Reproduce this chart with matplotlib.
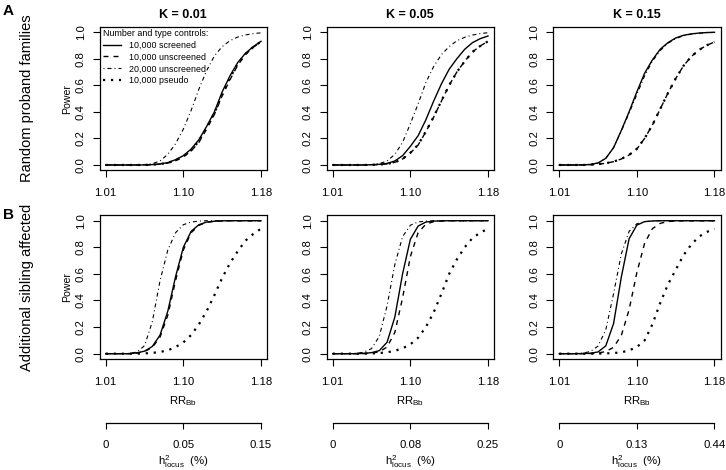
import matplotlib
matplotlib.use("Agg")
import matplotlib.pyplot as plt
from matplotlib.lines import Line2D

plt.rcParams['font.family'] = ['Liberation Sans', 'DejaVu Sans']
plt.rcParams['mathtext.fontset'] = 'custom'
plt.rcParams['mathtext.rm'] = 'Liberation Sans'

# grid position of each RR value (index along the x axis)
grid_pos = list(range(21))
rr_tick_pos = [0, 10, 20]
rr_tick_labels = ['1.01', '1.10', '1.18']
k_values = ['0.01', '0.05', '0.15']
h2_tick_labels = [['0', '0.05', '0.15'], ['0', '0.08', '0.25'], ['0', '0.13', '0.44']]
row_names = ['Random proband families', 'Additional sibling affected']
row_letters = ['A', 'B']
series_names = ['10,000 screened', '10,000 unscreened', '20,000 unscreened', '10,000 pseudo']

# --- row A: random proband families, one list per K ---
rand_screened = [
    [0, 0, 0, 0, 0, 0, 0.003, 0.008, 0.018, 0.04, 0.07, 0.12, 0.19, 0.29, 0.40, 0.55, 0.67, 0.77, 0.84, 0.89, 0.93],
    [0, 0, 0, 0, 0, 0.002, 0.005, 0.012, 0.03, 0.07, 0.14, 0.22, 0.34, 0.48, 0.61, 0.72, 0.80, 0.87, 0.92, 0.95, 0.97],
    [0, 0, 0, 0.001, 0.004, 0.015, 0.05, 0.13, 0.26, 0.40, 0.55, 0.69, 0.79, 0.87, 0.92, 0.955, 0.975, 0.986, 0.992, 0.996, 0.998],
]
rand_unscreened = [
    [0, 0, 0, 0, 0, 0, 0.002, 0.006, 0.014, 0.032, 0.06, 0.105, 0.17, 0.27, 0.38, 0.52, 0.64, 0.75, 0.83, 0.885, 0.925],
    [0, 0, 0, 0, 0, 0.001, 0.003, 0.008, 0.02, 0.045, 0.09, 0.15, 0.25, 0.36, 0.48, 0.60, 0.70, 0.78, 0.85, 0.895, 0.93],
    [0, 0, 0, 0, 0.002, 0.006, 0.013, 0.025, 0.045, 0.075, 0.12, 0.20, 0.30, 0.42, 0.54, 0.65, 0.745, 0.815, 0.865, 0.90, 0.925],
]
rand_unscreened_20k = [
    [0, 0, 0, 0, 0, 0.003, 0.01, 0.03, 0.08, 0.16, 0.27, 0.41, 0.57, 0.71, 0.82, 0.89, 0.935, 0.962, 0.978, 0.988, 0.994],
    [0, 0, 0, 0, 0, 0.003, 0.01, 0.03, 0.08, 0.17, 0.31, 0.46, 0.62, 0.74, 0.83, 0.89, 0.935, 0.96, 0.977, 0.988, 0.995],
    [0, 0, 0, 0.001, 0.004, 0.015, 0.05, 0.13, 0.255, 0.39, 0.53, 0.67, 0.78, 0.86, 0.915, 0.95, 0.972, 0.984, 0.991, 0.995, 0.997],
]
rand_pseudo = [
    [0, 0, 0, 0, 0, 0, 0.002, 0.007, 0.016, 0.035, 0.065, 0.11, 0.18, 0.28, 0.39, 0.53, 0.655, 0.76, 0.835, 0.887, 0.928],
    [0, 0, 0, 0, 0, 0.001, 0.003, 0.008, 0.02, 0.046, 0.092, 0.152, 0.252, 0.362, 0.482, 0.60, 0.70, 0.78, 0.85, 0.895, 0.93],
    [0, 0, 0, 0, 0.002, 0.006, 0.013, 0.025, 0.046, 0.076, 0.122, 0.20, 0.30, 0.42, 0.54, 0.65, 0.745, 0.815, 0.865, 0.90, 0.925],
]

# --- row B: additional sibling affected, one list per K ---
sib_screened = [
    [0, 0, 0, 0, 0.006, 0.019, 0.054, 0.14, 0.32, 0.58, 0.80, 0.92, 0.97, 0.99, 0.996, 0.999, 1, 1, 1, 1, 1],
    [0, 0, 0, 0, 0.002, 0.008, 0.023, 0.086, 0.275, 0.60, 0.86, 0.96, 0.99, 0.997, 0.999, 1, 1, 1, 1, 1, 1],
    [0, 0, 0, 0.001, 0.003, 0.013, 0.059, 0.226, 0.576, 0.864, 0.967, 0.993, 0.998, 1, 1, 1, 1, 1, 1, 1, 1],
]
sib_unscreened = [
    [0, 0, 0, 0, 0.005, 0.016, 0.047, 0.125, 0.29, 0.55, 0.78, 0.91, 0.965, 0.988, 0.995, 0.999, 1, 1, 1, 1, 1],
    [0, 0, 0, 0, 0.001, 0.004, 0.014, 0.05, 0.16, 0.42, 0.73, 0.91, 0.974, 0.993, 0.998, 1, 1, 1, 1, 1, 1],
    [0, 0, 0, 0, 0.001, 0.005, 0.016, 0.048, 0.137, 0.33, 0.61, 0.83, 0.94, 0.98, 0.994, 0.998, 1, 1, 1, 1, 1],
]
sib_unscreened_20k = [
    [0, 0, 0, 0.002, 0.012, 0.06, 0.24, 0.55, 0.78, 0.91, 0.97, 0.99, 0.997, 1, 1, 1, 1, 1, 1, 1, 1],
    [0, 0, 0, 0.003, 0.011, 0.038, 0.13, 0.36, 0.67, 0.88, 0.966, 0.991, 0.997, 1, 1, 1, 1, 1, 1, 1, 1],
    [0, 0, 0, 0.004, 0.016, 0.057, 0.18, 0.45, 0.75, 0.92, 0.977, 0.993, 0.998, 1, 1, 1, 1, 1, 1, 1, 1],
]
sib_pseudo = [
    [0, 0, 0, 0, 0, 0.002, 0.006, 0.013, 0.025, 0.05, 0.085, 0.14, 0.22, 0.32, 0.44, 0.57, 0.68, 0.77, 0.85, 0.90, 0.94],
    [0, 0, 0, 0, 0, 0.002, 0.005, 0.01, 0.022, 0.04, 0.07, 0.12, 0.20, 0.31, 0.45, 0.60, 0.71, 0.80, 0.87, 0.91, 0.94],
    [0, 0, 0, 0, 0, 0, 0.002, 0.005, 0.01, 0.025, 0.05, 0.10, 0.22, 0.38, 0.52, 0.63, 0.74, 0.82, 0.88, 0.915, 0.94],
]

rows = [
    [rand_screened, rand_unscreened, rand_unscreened_20k, rand_pseudo],
    [sib_screened, sib_unscreened, sib_unscreened_20k, sib_pseudo],
]

# line styles mimicking R lty 1, 2, 4, 3
styles = [
    dict(color='black', lw=1.0, linestyle='-'),
    dict(color='black', lw=1.0, linestyle=(0, (3.6, 3.6))),
    dict(color='black', lw=0.8, linestyle=(0, (0.9, 2.7, 3.6, 2.7))),
    dict(color='black', lw=1.6, linestyle=(0, (1.0, 2.6))),
]

W, H = 726, 470
col_left = [99.5, 326.5, 553]
row_top = [26.7, 215.4]
pw, ph = 167.7, 143.6

fig = plt.figure(figsize=(W / 100, H / 100), dpi=100)

for r in range(2):
    for c in range(3):
        ax = fig.add_axes([col_left[c] / W, 1 - (row_top[r] + ph) / H, pw / W, ph / H])
        for series, st in zip(rows[r], styles):
            ax.plot(grid_pos, series[c], **st)
        ax.set_xlim(-0.8, 20.8)
        ax.set_ylim(-0.04, 1.04)
        ax.set_xticks(rr_tick_pos, rr_tick_labels)
        ax.set_yticks([0, 0.2, 0.4, 0.6, 0.8, 1.0], ['0.0', '0.2', '0.4', '0.6', '0.8', '1.0'])
        ax.tick_params(direction='out', length=4.8, width=0.8, labelsize=8.2)
        ax.tick_params(axis='x', pad=8)
        ax.tick_params(axis='y', pad=5)
        plt.setp(ax.get_yticklabels(), rotation=90, va='center')
        for s in ax.spines.values():
            s.set_linewidth(0.9)
        if c == 0:
            ax.set_ylabel('Power', fontsize=7.6, labelpad=3)
        if r == 0:
            ax.set_title(f'K = {k_values[c]}', fontweight='bold', fontsize=9, pad=6)
        if r == 1:
            ax.set_xlabel(r'RR$_{\mathregular{Bb}}$', fontsize=8.2, labelpad=5)
        if r == 0 and c == 0:
            handles = [Line2D([], [], **st) for st in styles]
            leg = ax.legend(handles, series_names, title='Number and type controls:',
                            loc='upper left', bbox_to_anchor=(0.02, 0.985), frameon=False,
                            fontsize=6.4, title_fontsize=6.4, alignment='left',
                            handlelength=2.0, handletextpad=0.9, labelspacing=0.32,
                            borderaxespad=0, borderpad=0)

        # secondary h2 axis under the bottom row
        if r == 1:
            axh = fig.add_axes([col_left[c] / W, 1 - 423 / H, pw / W, 0.0005])
            axh.set_xlim(-0.8, 20.8)
            axh.set_yticks([])
            for side in ['top', 'left', 'right']:
                axh.spines[side].set_visible(False)
            axh.spines['bottom'].set_bounds(0, 20)
            axh.spines['bottom'].set_linewidth(0.9)
            axh.set_xticks(rr_tick_pos, h2_tick_labels[c])
            axh.tick_params(direction='out', length=4.3, width=0.8, labelsize=8.2, pad=8)
            axh.set_xlabel(r'$\mathregular{h^2_{locus}}$  (%)', fontsize=8.2, labelpad=2.5)

for r in range(2):
    yc = 1 - (row_top[r] + ph / 2) / H
    fig.text(27 / W, yc, row_names[r], rotation=90, ha='center', va='center', fontsize=10.5)
fig.text(8 / W, 1 - 11 / H, row_letters[0], fontweight='bold', fontsize=11, ha='center', va='center')
fig.text(8 / W, 1 - 215 / H, row_letters[1], fontweight='bold', fontsize=11, ha='center', va='center')

fig.savefig('out.png', dpi=100)
